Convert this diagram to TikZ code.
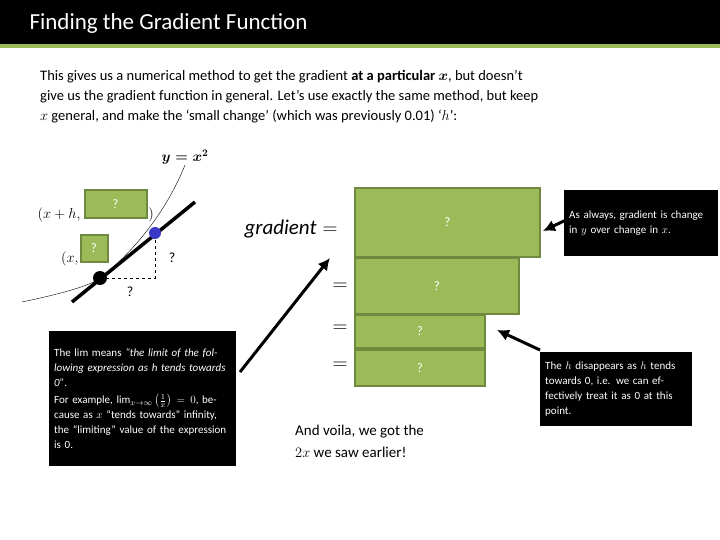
\documentclass[tikz,border=0pt]{standalone}
\usepackage{fontspec}
\setmainfont{Carlito}
\usepackage{amsmath}
\usetikzlibrary{arrows.meta}
\definecolor{gfill}{HTML}{9BBB59}
\definecolor{gline}{HTML}{71893F}
\tikzset{
 gbox/.style={draw=gline,line width=2pt,fill=gfill,text=white,font=\fontsize{13}{15}\selectfont},
 bbox/.style={fill=black,text=white,align=left,anchor=north west,inner sep=5pt,font=\fontsize{11}{15}\selectfont},
 bigarrow/.style={line width=3pt,-{Latex[length=12pt,width=12pt]}},
 lbl/.style={font=\fontsize{14}{16}\selectfont}
}
\begin{document}
\begin{tikzpicture}[x=1pt,y=-1pt]
\useasboundingbox (0,0) rectangle (720,540);
\fill[white] (0,0) rectangle (720,540);
\fill[black] (0,0) rectangle (720,44);
\fill[gfill] (0,44) rectangle (720,48);
\node[anchor=west,text=white,font=\fontsize{23}{26}\selectfont] (title) at (26,23) {Finding the Gradient Function};
\node[anchor=north west,align=left,font=\fontsize{14.5}{20}\selectfont,inner sep=0] (intro) at (40,70)
 {This gives us a numerical method to get the gradient \textbf{at a particular $\boldsymbol{x}$}, but doesn’t\\
 give us the gradient function in general. Let’s use exactly the same method, but keep\\
 $x$ general, and make the ‘small change’ (which was previously 0.01) ‘$h$’:};
% curve
\draw[thin] (22,302) .. controls (60,294) and (90,286) .. (100,278) .. controls (130,255) and (165,215) .. (185,165);
\node[lbl] (yx) at (185,157) {$\boldsymbol{y=x^2}$};
\draw[line width=3.5pt] (72,302) -- (195,202);
\draw[dashed,thick] (100,278) -- (155,278) -- (155,233);
\fill[black] (100,278) circle (7);
\fill[blue!55!gray] (155,233) circle (6);
\node[lbl] (q1) at (172,258) {?};
\node[lbl] (q2) at (130,292) {?};
\node[lbl,anchor=east] (xh) at (84,215) {$(x+h,$};
\node[lbl] (rp) at (151,215) {$)$};
\node[lbl,anchor=east] (xx) at (82,259) {$(x,$};
\node[gbox,minimum width=62pt,minimum height=28pt] (ba) at (115.5,204) {?};
\node[gbox,minimum width=27pt,minimum height=27pt] (bb) at (94,248.5) {?};
% gradient
\node[font=\fontsize{21}{24}\selectfont] (grad) at (291,229) {$\mathit{gradient}=$};
\node[font=\fontsize{21}{24}\selectfont] (e1) at (340,287) {$=$};
\node[font=\fontsize{21}{24}\selectfont] (e2) at (340,329) {$=$};
\node[font=\fontsize{21}{24}\selectfont] (e3) at (340,366) {$=$};
\node[gbox,minimum width=185pt,minimum height=69pt] (g1) at (447.5,222.5) {?};
\node[gbox,minimum width=164pt,minimum height=56pt] (g2) at (437,286) {?};
\node[gbox,minimum width=130pt,minimum height=33pt] (g3) at (420,331.5) {?};
\node[gbox,minimum width=130pt,minimum height=36pt] (g4) at (420,368) {?};
% black boxes
\node[bbox,text width=177pt,minimum height=135pt] (lim) at (49,331)
 {The lim means \emph{“the limit of the following expression as h tends towards 0”}.\\[2pt]
 For example, $\lim_{x\to\infty}\left(\frac{1}{x}\right)=0$, because as $x$ “tends towards” infinity, the “limiting” value of the expression is 0.};
\node[bbox,text width=144pt,minimum height=66pt] (alw) at (564,190)
 {As always, gradient is change in $y$ over change in $x$.};
\node[bbox,text width=142pt,minimum height=74pt] (hdis) at (540,352)
 {The $h$ disappears as $h$ tends towards 0, i.e. we can effectively treat it as 0 at this point.};
\coordinate (a1s) at (240,372); \coordinate (a1e) at (330,258);
\draw[bigarrow] (a1s) -- (a1e);
\coordinate (a2s) at (566,220); \coordinate (a2e) at (543,231);
\draw[bigarrow] (a2s) -- (a2e);
\coordinate (a3s) at (540,350); \coordinate (a3e) at (497,330);
\draw[bigarrow] (a3s) -- (a3e);
\node[anchor=north west,align=left,font=\fontsize{15}{22}\selectfont,inner sep=0] (voila) at (295,425)
 {And voila, we got the\\ $2x$ we saw earlier!};
\end{tikzpicture}
\end{document}
